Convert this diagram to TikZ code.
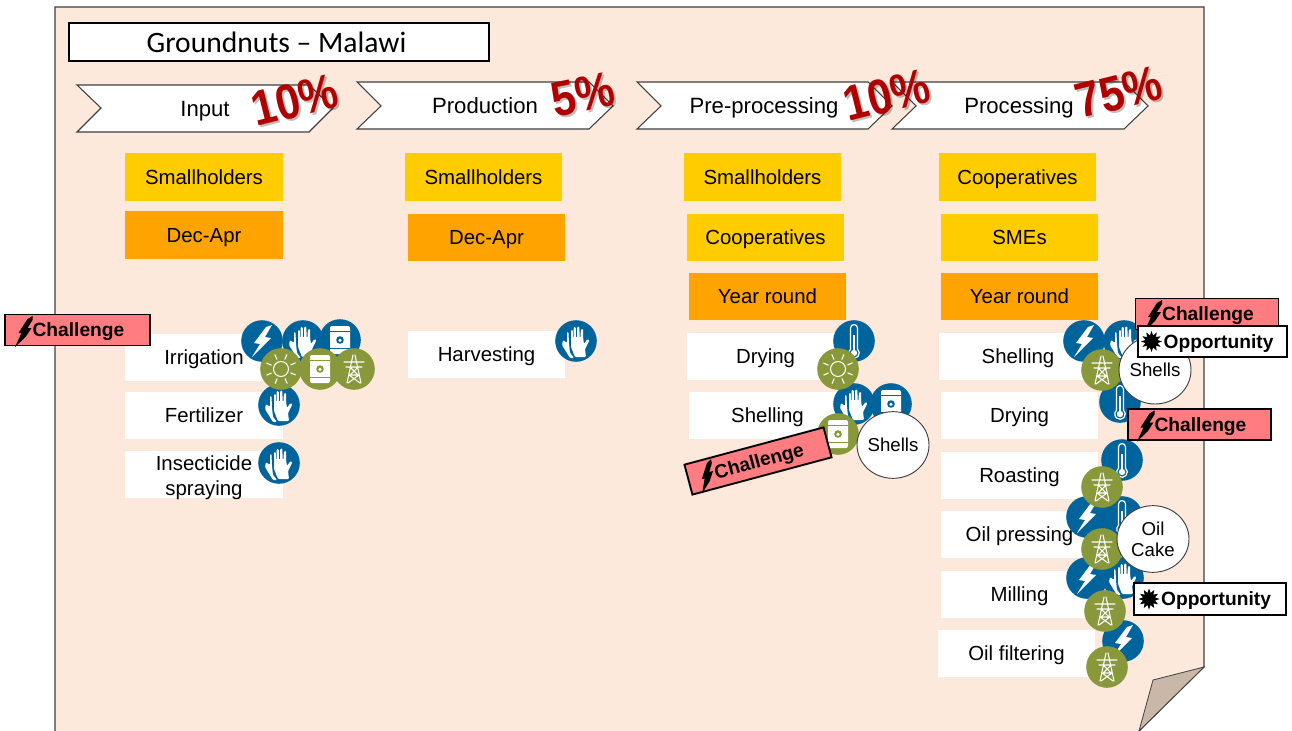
\documentclass[tikz,border=0pt]{standalone}
\usepackage{fontspec}
\usepackage{graphicx}
\usetikzlibrary{shapes.geometric}
\setmainfont{Liberation Sans}
\newfontfamily\carl{Carlito}
\definecolor{pagebg}{HTML}{FDE9DB}
\definecolor{foldc}{HTML}{C9B8A8}
\definecolor{edgec}{HTML}{404040}
\definecolor{icoblue}{HTML}{00649C}
\definecolor{icogreen}{HTML}{88983A}
\definecolor{yel}{HTML}{FFCC00}
\definecolor{ora}{HTML}{FFA300}
\definecolor{chal}{HTML}{FF7C80}
\definecolor{pct}{HTML}{B00000}
\tikzset{
 lab/.style={font=\fontsize{15.3}{18.5}\selectfont,text=black,align=center,inner sep=0pt,outer sep=0pt,text height=11pt,text depth=0pt},
 whitebox/.style={lab,fill=white},
 yelbox/.style={lab,fill=yel},
 orabox/.style={lab,fill=ora},
 chev/.style={draw=edgec,fill=white,line width=.8pt},
 chevtxt/.style={lab,font=\fontsize{16.6}{20}\selectfont},
 tag/.style={font=\bfseries\fontsize{14.4}{17}\selectfont,text=black,inner sep=0pt,outer sep=0pt,text height=10pt,text depth=0pt},
 tagbox/.style={draw=black,line width=1.4pt,inner sep=0pt,outer sep=0pt},
 disc/.style={circle,minimum size=31.2pt,inner sep=0pt,outer sep=0pt},
 bubble/.style={ellipse,draw=edgec,line width=.7pt,fill=white,inner sep=0pt,outer sep=0pt,align=center,font=\fontsize{14}{16}\selectfont},
 pctxt/.style={font=\bfseries\fontsize{37}{37}\selectfont,text=pct,inner sep=0pt},
 pcsh/.style={font=\bfseries\fontsize{37}{37}\selectfont,text=black,opacity=.25,inner sep=0pt},
 ln/.style={white,line width=.8pt,line cap=round,line join=round},
 pics/bolt/.style={code={\fill[white] (4,-14) -- (10,-16) -- (3,-4) -- (9,-3) -- (-10,16) -- (-2,3) -- (-8,2) -- cycle;}},
 pics/barrel/.style={code={
   \fill[white,rounded corners=1.5pt] (-10,-14) rectangle (10,14);
   \draw[line width=.8pt,draw=#1] (-10,-8.5) -- (10,-8.5) (-10,8.5) -- (10,8.5);
   \fill[#1] (0,0) circle (3.8); \fill[white] (0,0.4) circle (1.7);}},
 pics/sun/.style={code={
   \draw[ln] (0,0) circle (7.5);
   \foreach \a in {0,45,...,315}{\draw[ln] (\a+22:10.5) -- (\a+22:15.5);}}},
 pics/tower/.style={code={
   \draw[ln] (-1,-14) -- (-7,14) (1,-14) -- (7,14) (-10,-7) -- (10,-7) (-8,-2) -- (8,-2)
     (-4,-2) -- (4,6) (4,-2) -- (-4,6) (-5,6) -- (5,6) (-5,6) -- (6,14) (5,6) -- (-6,14);}},
 pics/thermo/.style={code={
   \draw[white,line width=.9pt] (-3.5,8) -- (-3.5,-13) arc (180:360:3.5) -- (3.5,8) arc (-49:229:5.3);
   \fill[white] (0,12) circle (3.2); \fill[white] (-.9,-6) rectangle (.9,12);}},
 pics/hand/.style={code={
   \fill[white,rounded corners=.8pt]
     (-13,-1) -- (-9,2) -- (-9,-9) -- (-7.5,-9) -- (-7,3) -- (-6,12) -- (-2,17) -- (-6,17) -- (-14,4) -- cycle;
   \fill[white,rounded corners=.8pt]
     (-5,-5) -- (-5,-11) -- (-3.2,-11) -- (-3,-3) -- (-2.4,-3) -- (-2.4,-14) -- (-.2,-14) -- (0,-3) -- (1,-3) -- (1.2,-14.5) -- (3.4,-14.5)
     -- (3.6,-3) -- (4.4,-3) -- (5,-12) -- (7.2,-12) -- (7.2,-2) -- (8,3) -- (11.5,-2) -- (13.5,-1) -- (9,8) -- (10,16) -- (-1,16) -- (-5,6) -- cycle;}},
 pics/chalbolt/.style={code={\fill[black] (-62.5,17) -- (-56,3) -- (-59,3) -- (-50,-11) -- (-45,-14) -- (-45,-10) -- (-50,-2) -- (-46,-2) -- (-52,7) -- cycle;}},
 pics/burst/.style={code={\fill[black] plot[samples=25,domain=0:24] ({(mod(\x,2)==0?10.5:6.2)*cos(\x*15)},{(mod(\x,2)==0?10.5:6.2)*sin(\x*15)}) -- cycle;}},
}
\newcommand{\bx}[7]{\node[#6,minimum width=#4*.75pt,minimum height=#5*.75pt] (#1) at (#2,#3) {#7};}
\newcommand{\ico}[5]{\node[disc,fill=#4] (#1) at (#2,#3) {}; \pic at (#1) {#5={#4}};}
\newcommand{\challenge}[5]{\begin{scope}[shift={(#2,#3)},rotate=#4,transform shape]
  \node[tagbox,fill=chal,minimum width=#5*.75pt,minimum height=31*.75pt] (#1) at (0,0) {};
  \node[tag] (#1t) at (1,0) {Challenge};
  \pic at (0,0) {chalbolt};
  \end{scope}}
\newcommand{\opportunity}[5]{\node[tagbox,fill=white,minimum width=#4*.75pt,minimum height=#5*.75pt] (#1) at (#2,#3) {};
  \node[tag] (#1t) at (#2+6,#3) {Opportunity};
  \pic at (#2-61,#3) {burst};}
\newcommand{\pctlabel}[5]{\node[pcsh,rotate=#4] (#1s) at (#2+2,#3+2) {\scalebox{.88}[1]{#5}}; \node[pctxt,rotate=#4] (#1) at (#2,#3) {\scalebox{.88}[1]{#5}};}
\begin{document}
\begin{tikzpicture}[x=.75pt,y=-.75pt]
\useasboundingbox (0,0) rectangle (1292,731);
\fill[white] (0,0) rectangle (1292,731);
% page
\filldraw[fill=pagebg,draw=edgec,line width=.8pt] (55,740) -- (55,7) -- (1204,7) -- (1204,667) -- (1139,731) -- (1139,740) -- cycle;
\filldraw[fill=foldc,draw=edgec,line width=.6pt] (1204,667) -- (1153,680) -- (1139,731) -- cycle;
% title
\bx{title}{279}{42}{420}{38}{draw=black,line width=1.4pt,fill=white,inner sep=0pt,outer sep=0pt,font=\carl\fontsize{22.2}{26}\selectfont}{Groundnuts – Malawi\hspace*{3.7pt}}
% chevrons
\filldraw[chev] (77,85) -- (309,85) -- (333,108) -- (309,132) -- (77,132) -- (101,108) -- cycle;
\filldraw[chev] (357,82) -- (589,82) -- (613,106) -- (589,129) -- (357,129) -- (381,106) -- cycle;
\filldraw[chev] (637,82) -- (868,82) -- (892,106) -- (868,129) -- (637,129) -- (661,106) -- cycle;
\filldraw[chev] (892,82) -- (1124,82) -- (1148,106) -- (1124,129) -- (892,129) -- (916,106) -- cycle;
\node[chevtxt] (c1) at (205,109) {Input};
\node[chevtxt] (c2) at (485,106) {Production};
\node[chevtxt] (c3) at (764,106) {Pre-processing};
\node[chevtxt] (c4) at (1019,106) {Processing};
\pctlabel{p1}{295}{100}{14}{10\%}
\pctlabel{p2}{583}{94}{12}{5\%}
\pctlabel{p3}{887}{95}{14}{10\%}
\pctlabel{p4}{1119}{92}{14}{75\%}
% column boxes
\bx{a1}{204}{177}{158}{48}{yelbox}{Smallholders}
\bx{a2}{204}{235}{158}{48}{orabox}{Dec-Apr}
\bx{a3}{204}{357}{158}{47}{whitebox}{Irrigation}
\bx{a4}{204}{415.5}{158}{47}{whitebox}{Fertilizer}
\bx{a5}{204}{474.5}{158}{47}{whitebox}{}
\node[lab,text height=,text depth=] (a5t) at (204,477.5) {Insecticide\\spraying};
\bx{b1}{483.5}{177}{157}{48}{yelbox}{Smallholders}
\bx{b2}{486.5}{237.5}{157}{47}{orabox}{Dec-Apr}
\bx{b3}{486.5}{354.5}{157}{47}{whitebox}{Harvesting}
\bx{c5}{762.5}{177}{157}{48}{yelbox}{Smallholders}
\bx{c6}{765.5}{237.5}{157}{47}{yelbox}{Cooperatives}
\bx{c7}{767.5}{296.5}{157}{47}{orabox}{Year round}
\bx{c8}{765.5}{356}{157}{47}{whitebox}{Drying}
\bx{c9}{767.5}{415.5}{157}{47}{whitebox}{Shelling}
\bx{d1}{1017.5}{177}{157}{48}{yelbox}{Cooperatives}
\bx{d2}{1019.5}{237.5}{157}{47}{yelbox}{SMEs}
\bx{d3}{1019.5}{296.5}{157}{47}{orabox}{Year round}
\bx{d4}{1018}{356.5}{158}{47}{whitebox}{Shelling}
\bx{d5}{1019.5}{415.5}{157}{47}{whitebox}{Drying}
\bx{d6}{1019.5}{475.5}{157}{47}{whitebox}{Roasting}
\bx{d7}{1019.5}{534.5}{157}{47}{whitebox}{Oil pressing}
\bx{d8}{1019.5}{594.5}{157}{47}{whitebox}{Milling}
\bx{d9}{1016.5}{653.5}{157}{47}{whitebox}{Oil filtering}
% blue icons
\ico{i1}{262}{341}{icoblue}{bolt}
\ico{i2}{303}{341}{icoblue}{hand}
\ico{i3}{340}{340}{icoblue}{barrel}
\ico{i4}{279}{405}{icoblue}{hand}
\ico{i5}{279}{463}{icoblue}{hand}
\ico{i6}{576}{341}{icoblue}{hand}
\ico{i7}{854}{341}{icoblue}{thermo}
\ico{i8}{854}{404}{icoblue}{hand}
\ico{i9}{891}{404}{icoblue}{barrel}
\ico{j1}{1084}{341}{icoblue}{bolt}
\ico{j2}{1124}{341}{icoblue}{hand}
\ico{j3}{1120}{402}{icoblue}{thermo}
\ico{j4}{1122}{460}{icoblue}{thermo}
\ico{j5}{1087}{517}{icoblue}{bolt}
\ico{j6}{1122}{517}{icoblue}{thermo}
\ico{j7}{1087}{578}{icoblue}{bolt}
\ico{j8}{1123}{578}{icoblue}{hand}
\ico{j9}{1123}{641}{icoblue}{bolt}
% green icons
\ico{g1}{281}{369}{icogreen}{sun}
\ico{g2}{320}{369}{icogreen}{barrel}
\ico{g3}{354}{369}{icogreen}{tower}
\ico{g4}{838}{369}{icogreen}{sun}
\ico{g5}{838}{434}{icogreen}{barrel}
\ico{g6}{1102}{370}{icogreen}{tower}
\ico{g7}{1102}{487}{icogreen}{tower}
\ico{g8}{1102}{549}{icogreen}{tower}
\ico{g9}{1105}{611}{icogreen}{tower}
\ico{g0}{1107}{667}{icogreen}{tower}
% bubbles
\node[bubble,minimum width=54pt,minimum height=50pt] (s1) at (893,445) {Shells};
\node[bubble,minimum width=54pt,minimum height=51pt] (s2) at (1155,370) {Shells};
\node[bubble,minimum width=54pt,minimum height=50pt] (s3) at (1153,539) {Oil\\Cake};
% tags
\challenge{t1}{77.5}{330}{0}{145}
\challenge{t2}{758}{461}{15}{144}
\challenge{t3}{1207}{314}{0}{143}
\opportunity{o1}{1212.5}{341.5}{149}{31}
\challenge{t4}{1199.5}{424.5}{0}{143}
\opportunity{o2}{1210}{599}{152}{32}
\end{tikzpicture}
\end{document}
